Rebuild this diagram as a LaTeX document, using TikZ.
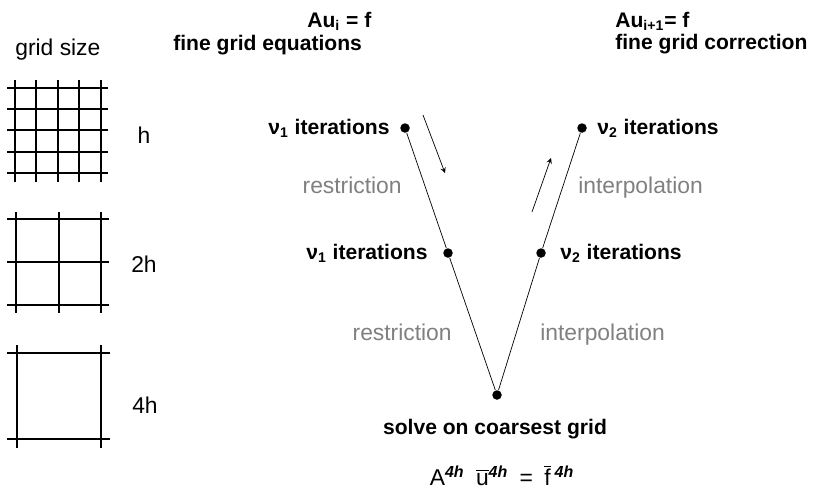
\documentclass[tikz,border=0pt]{standalone}
\usepackage{fontspec}
\setmainfont{Liberation Sans}
\usetikzlibrary{positioning}

\begin{document}
\begin{tikzpicture}[
        x=0.02cm,
        y=-0.02cm,
        >=stealth,
        dot/.style={
            circle,
            fill,
            minimum size=0.19cm,
            inner sep=0pt
        },
        head/.style={font=\fontsize{12}{14}\selectfont\bfseries, inner sep=0pt},
        transfer/.style={font=\fontsize{13}{15}\selectfont, text=black!50, inner sep=0pt},
        size/.style={font=\fontsize{13}{15}\selectfont, inner sep=0pt, anchor=base},
        gridline/.style={line width=1.4pt}
    ]
    \useasboundingbox (0,0) rectangle (815,491);

    % grid sizes on the left
    \node[size, anchor=base west] (gs) at (15,55) {grid size};

    \foreach \x in {15,36,58,79,101} \draw[gridline] (\x,80) -- (\x,182);
    \foreach \y in {88,109,130,152,173} \draw[gridline] (7,\y) -- (108,\y);

    \foreach \x in {16,59,101} \draw[gridline] (\x,212) -- (\x,313);
    \foreach \y in {219,262,305} \draw[gridline] (7,\y) -- (109,\y);

    \foreach \x in {17,101} \draw[gridline] (\x,345) -- (\x,448);
    \foreach \y in {353,439} \draw[gridline] (7,\y) -- (110,\y);

    \node[size] (h1) at (144,143) {h};
    \node[size] (h2) at (144,272) {2h};
    \node[size] (h4) at (145,413) {4h};

    % headings
    \node[head, anchor=base west] (eqa) at (307,27) {Au\textsubscript{i} = f};
    \node[head, anchor=base west] (eqb) at (173,50) {fine grid equations};
    \node[head, anchor=base west] (cra) at (615,27) {Au\textsubscript{i+1}= f};
    \node[head, anchor=base west] (crb) at (615,49) {fine grid correction};

    % the V cycle
    \node[dot] (f1) at (405,128) {};
    \node[dot] (c1) at (448,253) {};
    \node[dot] (cc) at (497,395) {};
    \node[dot] (c2) at (541,253) {};
    \node[dot] (f2) at (582,128) {};

    \draw (f1) -- (c1) -- (cc) -- (c2) -- (f2);

    \node[head, left=0.2cm of f1] (it1) {ν\textsubscript{1} iterations};
    \node[head, left=0.3cm of c1] (it2) {ν\textsubscript{1} iterations};
    \node[head, right=0.28cm of c2] (it3) {ν\textsubscript{2} iterations};
    \node[head, right=0.2cm of f2] (it4) {ν\textsubscript{2} iterations};

    \node[transfer, anchor=base east] (rs1) at (402,193) {restriction};
    \node[transfer, anchor=base east] (rs2) at (452,340) {restriction};
    \node[transfer, anchor=base west] (ip1) at (578,193) {interpolation};
    \node[transfer, anchor=base west] (ip2) at (540,340) {interpolation};

    \coordinate (r0) at (423,115);
    \coordinate (r1) at (445,173);
    \draw[->] (r0) -- (r1);
    \coordinate (p0) at (532,212);
    \coordinate (p1) at (551,158);
    \draw[->] (p0) -- (p1);

    \node[head, anchor=base] (sol) at (495,434) {solve on coarsest grid};
    \node[font=\fontsize{13}{15}\selectfont, anchor=base, inner sep=0pt] (eqc) at (502,485)
        {A\textsuperscript{\bfseries\itshape 4h}\enspace$\overline{\mbox{u}}$\textsuperscript{\bfseries\itshape 4h}\enspace=\enspace$\overline{\mbox{f}}$\,\textsuperscript{\bfseries\itshape 4h}};

\end{tikzpicture}
\end{document}
